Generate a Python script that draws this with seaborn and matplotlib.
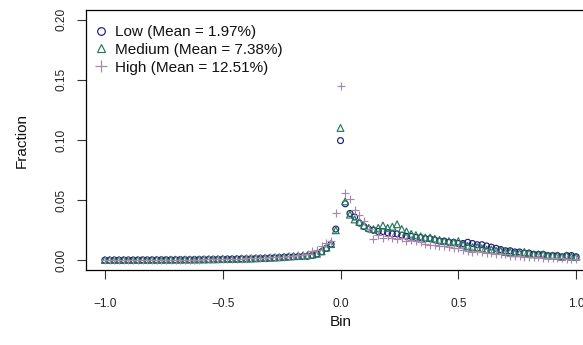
import numpy as np
import pandas as pd
import matplotlib
matplotlib.use("Agg")
import matplotlib.pyplot as plt
import seaborn as sns
from matplotlib.lines import Line2D

# Bin centres from -1 to 1 in steps of 0.02
bins = np.round(np.linspace(-1.0, 1.0, 101), 2)

low = [
    0.0002, 0.0002, 0.0003, 0.0002, 0.0003, 0.0003, 0.0003, 0.0003, 0.0004, 0.0004,
    0.0004, 0.0004, 0.0005, 0.0005, 0.0005, 0.0005, 0.0006, 0.0006, 0.0006, 0.0007,
    0.0007, 0.0008, 0.0008, 0.0009, 0.0009, 0.0010, 0.0011, 0.0011, 0.0012, 0.0013,
    0.0013, 0.0014, 0.0016, 0.0017, 0.0018, 0.0020, 0.0022, 0.0024, 0.0027, 0.0029,
    0.0030, 0.0031, 0.0033, 0.0034, 0.0041, 0.0053, 0.0072, 0.0100, 0.0135, 0.0260,
    0.0995,
    0.047, 0.039, 0.036, 0.031, 0.028, 0.026, 0.025, 0.024, 0.024, 0.023,
    0.022, 0.022, 0.021, 0.020, 0.020, 0.019, 0.019, 0.018, 0.018, 0.017,
    0.016, 0.016, 0.015, 0.015, 0.014, 0.014, 0.015, 0.014, 0.013, 0.013,
    0.012, 0.011, 0.010, 0.009, 0.008, 0.008, 0.007, 0.007, 0.006, 0.006,
    0.005, 0.005, 0.005, 0.004, 0.004, 0.004, 0.003, 0.004, 0.004, 0.003,
]

medium = [
    0.0003, 0.0003, 0.0003, 0.0003, 0.0003, 0.0004, 0.0003, 0.0004, 0.0004, 0.0004,
    0.0005, 0.0005, 0.0005, 0.0005, 0.0006, 0.0006, 0.0006, 0.0007, 0.0007, 0.0007,
    0.0008, 0.0008, 0.0009, 0.0009, 0.0010, 0.0011, 0.0011, 0.0012, 0.0013, 0.0014,
    0.0015, 0.0016, 0.0017, 0.0019, 0.0020, 0.0022, 0.0024, 0.0026, 0.0029, 0.0032,
    0.0035, 0.0037, 0.0040, 0.0043, 0.0047, 0.0055, 0.0075, 0.0105, 0.0135, 0.0250,
    0.1100,
    0.049, 0.038, 0.034, 0.032, 0.029, 0.027, 0.026, 0.027, 0.029, 0.027,
    0.028, 0.030, 0.026, 0.024, 0.022, 0.021, 0.020, 0.019, 0.019, 0.018,
    0.017, 0.016, 0.016, 0.015, 0.016, 0.013, 0.012, 0.011, 0.011, 0.010,
    0.009, 0.009, 0.008, 0.008, 0.007, 0.007, 0.006, 0.006, 0.007, 0.006,
    0.005, 0.005, 0.005, 0.004, 0.004, 0.004, 0.003, 0.004, 0.003, 0.003,
]

high = [
    0.0003, 0.0002, 0.0003, 0.0003, 0.0003, 0.0003, 0.0004, 0.0003, 0.0004, 0.0004,
    0.0004, 0.0005, 0.0004, 0.0005, 0.0005, 0.0006, 0.0005, 0.0006, 0.0007, 0.0006,
    0.0007, 0.0008, 0.0008, 0.0009, 0.0010, 0.0010, 0.0011, 0.0012, 0.0013, 0.0014,
    0.0016, 0.0017, 0.0018, 0.0020, 0.0022, 0.0024, 0.0026, 0.0029, 0.0031, 0.0035,
    0.0038, 0.0042, 0.0046, 0.0052, 0.0075, 0.0085, 0.0117, 0.0145, 0.0165, 0.0390,
    0.1450,
    0.056, 0.051, 0.042, 0.038, 0.033, 0.026, 0.018, 0.021, 0.019, 0.020,
    0.019, 0.018, 0.019, 0.016, 0.017, 0.016, 0.015, 0.014, 0.013, 0.013,
    0.012, 0.012, 0.011, 0.010, 0.010, 0.009, 0.008, 0.007, 0.008, 0.007,
    0.006, 0.006, 0.005, 0.005, 0.005, 0.004, 0.004, 0.004, 0.003, 0.003,
    0.003, 0.003, 0.002, 0.002, 0.002, 0.002, 0.002, 0.001, 0.001, 0.001,
]

labels = ["Low (Mean = 1.97%)", "Medium (Mean = 7.38%)", "High (Mean = 12.51%)"]
xticks = [-1.0, -0.5, 0.0, 0.5, 1.0]
xticklabels = ["\u22121.0", "\u22120.5", "0.0", "0.5", "1.0"]
yticks = [0.00, 0.05, 0.10, 0.15, 0.20]
yticklabels = ["0.00", "0.05", "0.10", "0.15", "0.20"]

sns.set_style("ticks")
plt.rcParams["font.family"] = ["Liberation Sans", "DejaVu Sans"]

colors = ["#1c1c7a", "#237a58", "#a888aa"]
markers = ["o", "^", "+"]
sizes = [18, 24, 38]

fig = plt.figure(figsize=(5.83, 3.45), dpi=100)
ax = fig.add_axes([86 / 583, 75 / 345, 509 / 583, 260 / 345])

series = [low, medium, high]
for vals, lab, col, mk, sz in zip(series, labels, colors, markers, sizes):
    df = pd.DataFrame({"Bin": bins, "Fraction": vals})
    if mk == "+":
        sns.scatterplot(data=df, x="Bin", y="Fraction", ax=ax, marker=mk,
                        color=col, s=sz, linewidth=0.85, legend=False)
    else:
        sns.scatterplot(data=df, x="Bin", y="Fraction", ax=ax, marker=mk,
                        facecolor="none", edgecolor=col, s=sz,
                        linewidth=0.85, legend=False)

ax.set_xlim(-1.08, 1.08)
ax.set_ylim(-0.008, 0.208)
ax.set_xticks(xticks)
ax.set_xticklabels(xticklabels)
ax.set_yticks(yticks)
ax.set_yticklabels(yticklabels, rotation=90, va="center")

for sp in ax.spines.values():
    sp.set_visible(True)
    sp.set_color("black")
    sp.set_linewidth(0.9)

ax.tick_params(axis="both", direction="out", length=6.5, width=0.8,
               color="#333333", labelsize=8.6, labelcolor="#222222")
ax.tick_params(axis="x", pad=14)
ax.tick_params(axis="y", pad=7)

ax.set_xlabel("Bin", fontsize=11, color="#111111")
ax.set_ylabel("Fraction", fontsize=11, color="#111111")
ax.xaxis.set_label_coords(0.5, -0.2)
ax.xaxis.label.set_va("center")
ax.yaxis.set_label_coords(-0.1257, 0.5)
ax.yaxis.label.set_va("center")

handles = []
for lab, col, mk in zip(labels, colors, markers):
    if mk == "+":
        h = Line2D([], [], linestyle="none", marker=mk, color=col,
                   markersize=8, markeredgewidth=0.85, label=lab)
    else:
        h = Line2D([], [], linestyle="none", marker=mk, markerfacecolor="none",
                   markeredgecolor=col, markersize=5.5, markeredgewidth=0.85, label=lab)
    handles.append(h)

ax.legend(handles=handles, loc="upper left", bbox_to_anchor=(0.0, 1.0 - 8 / 260),
          frameon=False, fontsize=11, handlelength=1.0, handletextpad=0.45,
          labelspacing=0.25, borderaxespad=0.0, borderpad=0.45,
          labelcolor="#111111")

fig.savefig("out.png", dpi=100)
